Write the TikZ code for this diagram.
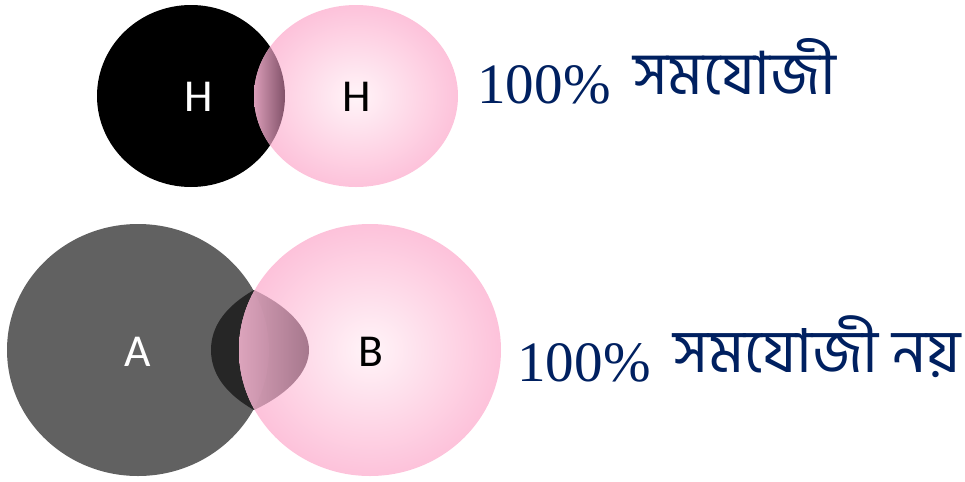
\documentclass[tikz,border=0pt]{standalone}
\usepackage{fontspec}
\setmainfont{Liberation Serif}
\newfontfamily\bnfont[Script=Bengali]{Hind Siliguri}
\newfontfamily\atomfont{Carlito}
\usetikzlibrary{positioning}

\definecolor{navy}{HTML}{002060}
\definecolor{pinkout}{HTML}{FDC0D9}
\definecolor{pinkin}{HTML}{FFF4F8}
\definecolor{greyA}{HTML}{616161}
\definecolor{lensdark}{HTML}{262626}
\definecolor{ovlHl}{HTML}{DA9DB8}
\definecolor{ovlHr}{HTML}{7E4F66}
\definecolor{ovlABl}{HTML}{D9A1B9}
\definecolor{ovlABr}{HTML}{A5778C}
\definecolor{ovlGl}{HTML}{DCA4BC}
\definecolor{ovlGr}{HTML}{C590A8}
\pgfdeclareradialshading{pinkball}{\pgfpoint{0bp}{0bp}}{color(0bp)=(pinkin); color(26bp)=(pinkout); color(50bp)=(pinkout)}

\begin{document}
\begin{tikzpicture}[
    x=0.02cm, y=-0.02cm,
    atom/.style={font=\atomfont\fontsize{26}{28}\selectfont, inner sep=0pt},
    note/.style={font=\fontsize{32.5}{36}\selectfont, text=navy, inner sep=0pt, anchor=base west},
    pinkatom/.style={shading=pinkball}
  ]
  \useasboundingbox (0,0) rectangle (965,481);

  % H-H (upper pair)
  \fill[black] (191,96) ellipse [x radius=94, y radius=91];
  \path[pinkatom] (356,96) ellipse [x radius=102, y radius=91];
  \begin{scope}
    \clip (191,96) ellipse [x radius=94, y radius=91];
    \clip (356,96) ellipse [x radius=102, y radius=91];
    \shade[left color=ovlHl, right color=ovlHr] (254,0) rectangle (286,190);
  \end{scope}

  % A-B (lower pair)
  \fill[greyA] (138,350) ellipse [x radius=131, y radius=126];
  \fill[lensdark] (254,290) .. controls (226,306) and (211,326) .. (211,350)
        .. controls (211,374) and (226,394) .. (254,410)
        .. controls (288,394) and (309,372) .. (309,350)
        .. controls (309,328) and (288,306) .. (254,290);
  \path[pinkatom] (370,350) ellipse [x radius=131, y radius=126];
  \begin{scope}
    \clip (370,350) ellipse [x radius=131, y radius=126];
    \clip (254,290) .. controls (226,306) and (211,326) .. (211,350)
        .. controls (211,374) and (226,394) .. (254,410)
        .. controls (288,394) and (309,372) .. (309,350)
        .. controls (309,328) and (288,306) .. (254,290);
    \shade[left color=ovlABl, right color=ovlABr] (239,280) rectangle (310,420);
    \clip (138,350) ellipse [x radius=131, y radius=126];
    \shade[left color=ovlGl, right color=ovlGr] (239,280) rectangle (271,420);
  \end{scope}

  % labels
  \node[atom, text=white] (h1) at (199,97) {H};
  \node[atom] (h2) at (357,97) {H};
  \node[atom, text=white] (a) at (138,352) {A};
  \node[atom] (b) at (371,352) {B};

  \node[note] (pure) at (477,103) {100\%\hspace{13pt}{\bnfont\fontsize{34}{38}\selectfont\raisebox{5pt}{সমযোজী}}};
  \node[note] (polar) at (517,381) {100\%\hspace{13pt}{\bnfont\fontsize{34.5}{38}\selectfont\raisebox{5pt}{সমযোজী নয়}}};

\end{tikzpicture}
\end{document}
